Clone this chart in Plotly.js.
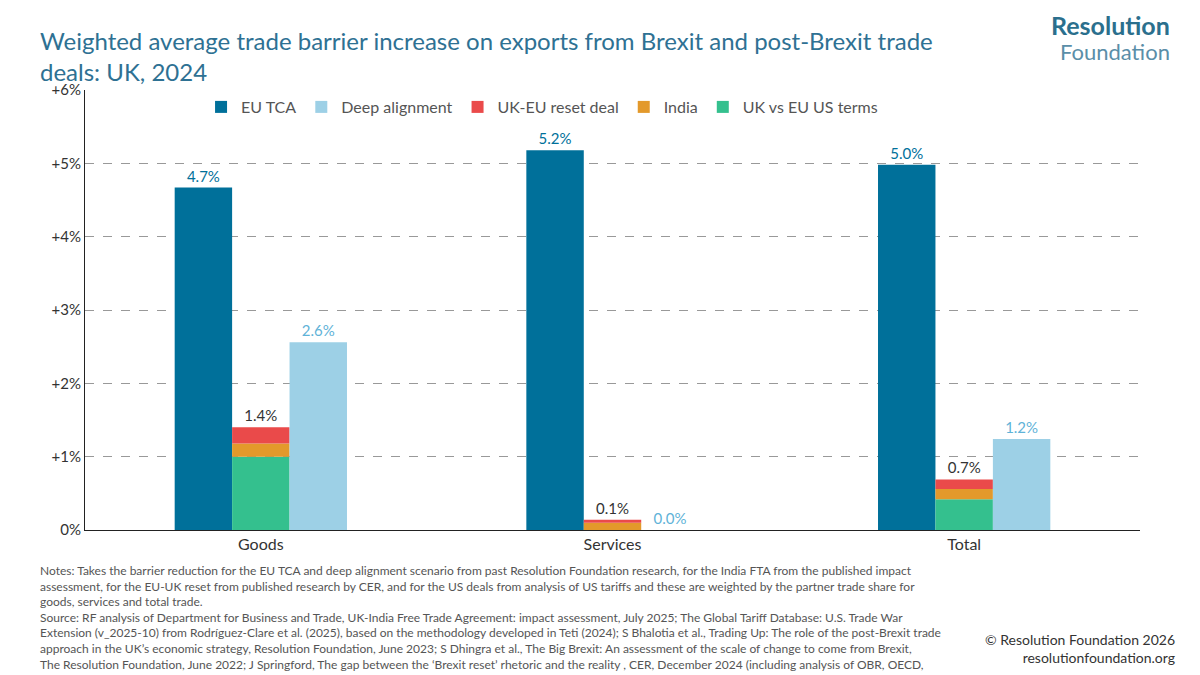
<!DOCTYPE html>
<html>
<head>
<meta charset="utf-8">
<script src="https://cdn.plot.ly/plotly-3.0.1.min.js"></script>
<style>body{margin:0;background:#fff}#chart{width:1200px;height:675px}</style>
</head>
<body>
<div id="chart"></div>
<script>
var categories = ['Goods', 'Services', 'Total'];
var euTca = [4.67, 5.18, 4.98];
var deepAlignment = [2.56, 0.0, 1.24];
var usTerms = [1.0, 0.0, 0.42];
var india = [0.18, 0.10, 0.14];
var resetDeal = [0.22, 0.04, 0.13];
var stackLabels = ['1.4%', '0.1%', '0.7%'];
var euLabels = ['4.7%', '5.2%', '5.0%'];
var deepLabels = ['2.6%', '0.0%', '1.2%'];

var indiaBase = usTerms.slice();
var resetBase = usTerms.map(function (v, i) { return v + india[i]; });

var font = 'Lato, "Open Sans", sans-serif';

var data = [
    {x: categories, y: euTca, type: 'bar', name: 'EU TCA', offsetgroup: 'a', legendrank: 1,
     marker: {color: '#00709a'}, text: euLabels, textposition: 'outside', cliponaxis: false,
     textfont: {color: '#00709a', size: 15}},
    {x: categories, y: usTerms, type: 'bar', name: 'UK vs EU US terms', offsetgroup: 'b', legendrank: 5,
     marker: {color: '#34c08e'}, textposition: 'none'},
    {x: categories, y: india, base: indiaBase, type: 'bar', name: 'India', offsetgroup: 'b', legendrank: 4,
     marker: {color: '#e3992b'}, textposition: 'none'},
    {x: categories, y: resetDeal, base: resetBase, type: 'bar', name: 'UK-EU reset deal', offsetgroup: 'b', legendrank: 3,
     marker: {color: '#ea4a4a'}, text: stackLabels, textposition: 'outside', cliponaxis: false,
     textfont: {color: '#333', size: 15}},
    {x: categories, y: deepAlignment, type: 'bar', name: 'Deep alignment', offsetgroup: 'c', legendrank: 2,
     marker: {color: '#9dd0e6'}, text: deepLabels, textposition: 'outside', cliponaxis: false,
     textfont: {color: '#5fb3d8', size: 15}}
];

var notes = 'Notes: Takes the barrier reduction for the EU TCA and deep alignment scenario from past Resolution Foundation research, for the India FTA from the published impact<br>' +
    'assessment, for the EU-UK reset from published research by CER, and for the US deals from analysis of US tariffs and these are weighted by the partner trade share for<br>' +
    'goods, services and total trade.<br>' +
    'Source: RF analysis of Department for Business and Trade, UK-India Free Trade Agreement: impact assessment, July 2025; The Global Tariff Database: U.S. Trade War<br>' +
    'Extension (v_2025-10) from Rodríguez-Clare et al. (2025), based on the methodology developed in Teti (2024); S Bhalotia et al., Trading Up: The role of the post-Brexit trade<br>' +
    'approach in the UK’s economic strategy, Resolution Foundation, June 2023; S Dhingra et al., The Big Brexit: An assessment of the scale of change to come from Brexit,<br>' +
    'The Resolution Foundation, June 2022; J Springford, The gap between the ‘Brexit reset’ rhetoric and the reality , CER, December 2024 (including analysis of OBR, OECD,<br>' +
    'Eurostat, UN, Higher Education Statistics Authority, HEPI/London Economics data); UN Comtrade, trade data and ONS, Quarterly trade by partner.';

var layout = {
    width: 1200, height: 675,
    paper_bgcolor: '#fff', plot_bgcolor: '#fff',
    font: {family: font, color: '#333'},
    margin: {l: 85, r: 60, t: 90, b: 145},
    barmode: 'group', bargap: 0.51, bargroupgap: 0,
    showlegend: true,
    legend: {orientation: 'h', x: 0.11, y: 1.0, yanchor: 'top', font: {size: 16, color: '#555'},
             itemwidth: 30, bgcolor: 'rgba(0,0,0,0)'},
    xaxis: {showline: true, linecolor: '#222', linewidth: 1, ticks: '', tickfont: {size: 16, color: '#333'}},
    yaxis: {range: [0, 6], tickvals: [0, 1, 2, 3, 4, 5, 6],
            ticktext: ['0%', '+1%', '+2%', '+3%', '+4%', '+5%', '+6%'],
            showline: true, linecolor: '#222', ticks: '', tickfont: {size: 15, color: '#333'},
            gridcolor: '#999', griddash: 'dash', zeroline: false},
    annotations: [
        {text: 'Weighted average trade barrier increase on exports from Brexit and post-Brexit trade<br>deals: UK, 2024',
         xref: 'paper', yref: 'paper', x: -0.045, y: 1.15, xanchor: 'left', yanchor: 'top', align: 'left',
         showarrow: false, font: {family: font, size: 24, color: '#2e7193'}},
        {text: '<b>Resolution</b>', xref: 'paper', yref: 'paper', x: 1.03, y: 1.108, xanchor: 'right', yanchor: 'bottom',
         showarrow: false, font: {family: font, size: 25, color: '#2b6f8d'}},
        {text: 'Foundation', xref: 'paper', yref: 'paper', x: 1.03, y: 1.052, xanchor: 'right', yanchor: 'bottom',
         showarrow: false, font: {family: font, size: 22, color: '#5a8ea8'}},
        {text: notes, xref: 'paper', yref: 'paper', x: -0.045, y: -0.07, xanchor: 'left', yanchor: 'top', align: 'left',
         showarrow: false, font: {family: font, size: 12, color: '#555'}},
        {text: '© Resolution Foundation 2026<br>resolutionfoundation.org', xref: 'paper', yref: 'paper', x: 1.035, y: -0.225,
         xanchor: 'right', yanchor: 'top', align: 'right', showarrow: false, font: {family: font, size: 14, color: '#333'}}
    ]
};

Plotly.newPlot('chart', data, layout, {displayModeBar: false});
</script>
</body>
</html>
